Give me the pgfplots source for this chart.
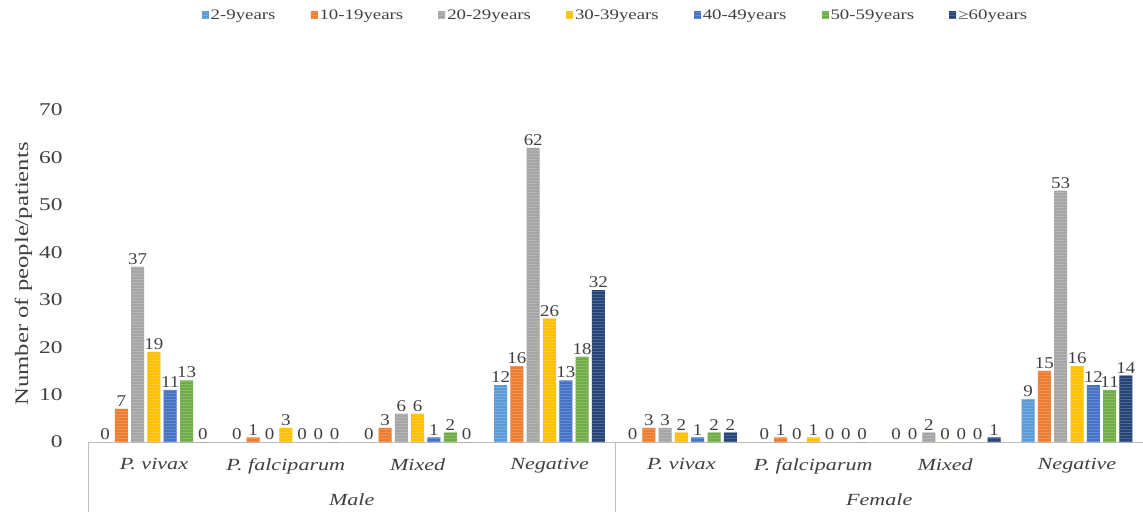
\documentclass[border=0pt]{standalone}
\usepackage{pgfplots}
\pgfplotsset{compat=1.18}
\usepackage{pgfplotstable}
\usetikzlibrary{patterns}
\usepackage{fontspec}
\setmainfont{Liberation Serif}[FakeStretch=1.3]
\newfontfamily\numf{Liberation Serif}[FakeStretch=1.15]

\definecolor{cA}{HTML}{5B9BD5}
\definecolor{cB}{HTML}{ED7D31}
\definecolor{cC}{HTML}{A5A5A5}
\definecolor{cD}{HTML}{FFC000}
\definecolor{cE}{HTML}{4472C4}
\definecolor{cF}{HTML}{70AD47}
\definecolor{cG}{HTML}{264478}
\definecolor{txt}{HTML}{404040}
\definecolor{axl}{HTML}{BFBFBF}

% columns: age groups, rows: Male (0-3) then Female (4-7)
\pgfplotstableread{
x  a  b  c  d  e  f  g
0  0  7  37 19 11 13 0
1  0  1  0  3  0  0  0
2  0  3  6  6  1  2  0
3  12 16 62 26 13 18 32
4  0  3  3  2  1  2  2
5  0  1  0  1  0  0  0
6  0  0  2  0  0  0  1
7  9  15 53 16 12 11 14
}\counts

\pgfplotsset{
  agebar/.style={fill=#1, draw=none,
    postaction={pattern=horizontal lines, pattern color=#1!82!white}},
}

\begin{document}
\begin{tikzpicture}
\useasboundingbox (0,0) rectangle (1143pt,514pt);
\begin{axis}[
  at={(88pt,72pt)}, anchor=south west,
  scale only axis,
  width=1055pt, height=332pt,
  ybar=3.3pt, bar width=13pt,
  xmin=-0.5, xmax=7.5,
  ymin=0, ymax=70,
  ytick={0,10,...,70},
  xtick={0,...,7},
  xticklabels={P. vivax, P. falciparum, Mixed, Negative, P. vivax, P. falciparum, Mixed, Negative},
  xticklabel style={font=\fontsize{17}{20}\selectfont\itshape, text=txt, yshift=-13pt},
  yticklabel style={font=\fontsize{18}{21}\selectfont, text=txt, xshift=-22pt},
  /pgf/number format/assume math mode=true,
  major tick length=0pt,
  axis x line*=bottom,
  axis y line*=left,
  y axis line style={draw=none},
  x axis line style={axl, line width=1pt, -},
  ylabel={Number of people/patients},
  ylabel style={font=\fontsize{19}{22}\selectfont, text=txt},
  every axis y label/.append style={at={(ticklabel cs:0.5)}, xshift=2pt},
  nodes near coords,
  every node near coord/.append style={font=\numf\fontsize{16.5}{19}\selectfont, text=txt, inner sep=2pt},
  clip=false,
  legend columns=7,
  legend style={at={(0.5,1)}, anchor=center, yshift=95pt, draw=none,
    font=\fontsize{14.5}{17}\selectfont, text=txt,
    /tikz/every even column/.append style={column sep=33pt}},
  legend image code/.code={\fill[#1] (0pt,-4pt) rectangle (7pt,4pt);},
]
\addplot[agebar=cA] table[x=x, y=a] {\counts};
\addlegendentry{2-9years}
\addplot[agebar=cB] table[x=x, y=b] {\counts};
\addlegendentry{10-19years}
\addplot[agebar=cC] table[x=x, y=c] {\counts};
\addlegendentry{20-29years}
\addplot[agebar=cD] table[x=x, y=d] {\counts};
\addlegendentry{30-39years}
\addplot[agebar=cE] table[x=x, y=e] {\counts};
\addlegendentry{40-49years}
\addplot[agebar=cF] table[x=x, y=f] {\counts};
\addlegendentry{50-59years}
\addplot[agebar=cG] table[x=x, y=g] {\counts};
\addlegendentry{≥60years}

% group separators and gender labels
\draw[axl, line width=1pt] (axis cs:-0.5,0) -- ++(0pt,-70pt);
\draw[axl, line width=1pt] (axis cs:3.5,0) -- ++(0pt,-70pt);
\node[font=\fontsize{17}{20}\selectfont\itshape, text=txt] at ([yshift=-58pt]axis cs:1.5,0) {Male};
\node[font=\fontsize{17}{20}\selectfont\itshape, text=txt] at ([yshift=-58pt]axis cs:5.5,0) {Female};
\end{axis}
\end{tikzpicture}
\end{document}
